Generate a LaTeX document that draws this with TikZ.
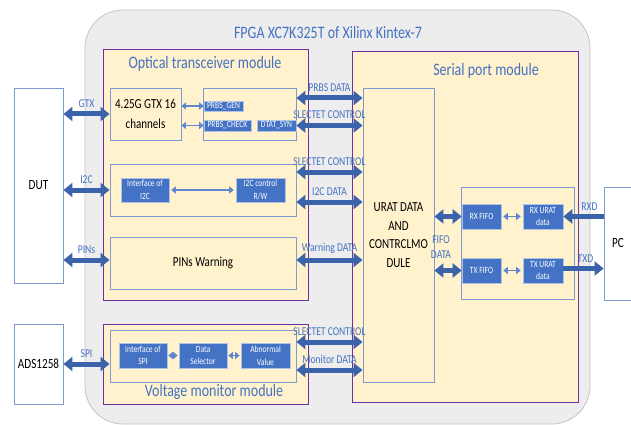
\documentclass[tikz,border=0pt]{standalone}
\usepackage{fontspec}
\setmainfont[FakeStretch=0.8]{Carlito}
\usetikzlibrary{arrows.meta}
\definecolor{tblue}{HTML}{4472C4}
\definecolor{abl}{HTML}{3A63AB}
\definecolor{cbord}{HTML}{7B9BD2}
\definecolor{mfill}{HTML}{FFF2CC}
\definecolor{mbord}{HTML}{7030A0}
\definecolor{fgray}{HTML}{EDEDED}
\definecolor{gbord}{HTML}{C4C4C4}
\begin{document}
\begin{tikzpicture}[x=1pt,y=-1pt,
  fpga/.style={draw=gbord, fill=fgray, rounded corners=38pt, line width=0.8pt, inner sep=0pt},
  module/.style={draw=mbord, fill=mfill, line width=0.7pt, inner sep=0pt},
  cont/.style={draw=cbord, fill=mfill, line width=0.9pt, inner sep=0pt, align=center, font=\fontsize{13.8}{20}\selectfont},
  ext/.style={draw=cbord, fill=white, line width=0.9pt, inner sep=0pt, font=\fontsize{14}{16}\selectfont},
  bbox/.style={fill=tblue, draw=cbord!60, line width=0.6pt, text=white, font=\fontsize{9.5}{12.5}\selectfont, align=center, inner sep=0pt},
  big/.style={draw=abl, line width=5pt, {Triangle[length=9pt,width=14pt]}-{Triangle[length=9pt,width=14pt]}},
  bigone/.style={draw=abl, line width=5pt, -{Triangle[length=9pt,width=14pt]}},
  sm/.style={draw=tblue!85, line width=1.3pt, {Triangle[length=4.5pt,width=7pt]}-{Triangle[length=4.5pt,width=7pt]}},
  lab/.style={text=tblue, font=\fontsize{12}{12}\selectfont, inner sep=1pt},
  ttl/.style={text=tblue, font=\fontsize{17.5}{18}\selectfont, inner sep=0pt}
]
\useasboundingbox (0,0) rectangle (631,425);
\fill[white] (0,0) rectangle (631,425);

% FPGA
\node[fpga, minimum width=505pt, minimum height=414pt] (fpga) at (337.5,217) {};
\node[ttl] (fpgat) at (328,32) {FPGA XC7K325T of Xilinx Kintex-7};

% Optical transceiver module
\node[module, minimum width=205pt, minimum height=251pt] (opt) at (205.5,174.5) {};
\node[ttl] (optt) at (205,64) {Optical transceiver module};
\node[cont, minimum width=71pt, minimum height=52pt] (gtx) at (145.5,114) {4.25G GTX 16\\channels};
\node[cont, minimum width=93pt, minimum height=52pt] (prbsbox) at (249.5,114) {};
\node[bbox, minimum width=39pt, minimum height=10pt] (prbsgen) at (223.5,106) {PRBS\_GEN};
\node[bbox, minimum width=47pt, minimum height=11pt] (prbschk) at (227.5,125.5) {PRBS\_CHECK};
\node[bbox, minimum width=39pt, minimum height=11pt] (dtat) at (276.5,125.5) {DTAT\_SYN};
\node[cont, minimum width=186pt, minimum height=52pt] (i2cbox) at (203,190) {};
\node[bbox, minimum width=48pt, minimum height=24pt] (ifi2c) at (145,190) {Interface of\\I2C};
\node[bbox, minimum width=49pt, minimum height=24pt] (i2cctl) at (260.5,190) {I2C control\\R/W};
\node[cont, minimum width=186pt, minimum height=52pt] (pins) at (203,263) {PINs Warning};

% Voltage monitor module
\node[module, minimum width=205pt, minimum height=80pt] (volt) at (205.5,364) {};
\node[cont, minimum width=186pt, minimum height=52pt] (voltbox) at (203,356) {};
\node[bbox, minimum width=48pt, minimum height=25pt] (ifspi) at (143,355.5) {Interface of\\SPI};
\node[bbox, minimum width=48pt, minimum height=25pt] (dsel) at (203,355.5) {Data\\Selector};
\node[bbox, minimum width=49pt, minimum height=25pt] (abn) at (265.5,355.5) {Abnormal\\Value};
\node[ttl] (voltt) at (214,392) {Voltage monitor module};

% Serial port module
\node[module, minimum width=226pt, minimum height=351pt] (serial) at (465,226.5) {};
\node[ttl] (serialt) at (486,71) {Serial port module};
\node[cont, minimum width=71pt, minimum height=294pt, font=\fontsize{13.8}{18.7}\selectfont] (urat) at (398.5,235) {URAT DATA\\AND\\CONTRCLMO\\DULE};
\node[cont, minimum width=113pt, minimum height=112pt] (fifobox) at (517.5,243) {};
\node[bbox, minimum width=39pt, minimum height=25pt] (rxfifo) at (481.5,216.5) {RX FIFO};
\node[bbox, minimum width=40pt, minimum height=25pt] (rxurat) at (543,216.5) {RX URAT\\data};
\node[bbox, minimum width=39pt, minimum height=25pt] (txfifo) at (481.5,270.5) {TX FIFO};
\node[bbox, minimum width=40pt, minimum height=25pt] (txurat) at (543,270.5) {TX URAT\\data};
\node[lab, align=center, font=\fontsize{12}{15}\selectfont] (fifodata) at (441,247) {FIFO\\DATA};

% External devices
\node[ext, minimum width=49pt, minimum height=195pt] (dut) at (38.5,185.5) {DUT};
\node[ext, minimum width=49pt, minimum height=80pt] (ads) at (38.5,364) {ADS1258};
\node[ext, minimum width=28pt, minimum height=113pt] (pc) at (618,243.5) {PC};

% Small internal arrows
\draw[sm] (prbsgen.west -| gtx.east) -- (prbsgen.west);
\draw[sm] (prbschk.west -| gtx.east) -- (prbschk.west);
\draw[sm, shorten <=2pt, shorten >=2pt] (ifi2c.east) -- (i2cctl.west);
\draw[sm, shorten <=1pt, shorten >=1pt] (ifspi.east) -- (dsel.west);
\draw[sm, shorten <=1pt, shorten >=1pt] (dsel.east) -- (abn.west);
\draw[sm, shorten <=2pt, shorten >=2pt] (rxfifo.east) -- (rxurat.west);
\draw[sm, shorten <=2pt, shorten >=2pt] (txfifo.east) -- (txurat.west);

% Big arrows left
\draw[big] (gtx.west -| dut.east) -- (gtx.west) node[lab, midway, above=3pt] {GTX};
\draw[big] (i2cbox.west -| dut.east) -- (i2cbox.west) node[lab, midway, above=3pt] {I2C};
\draw[big] ([yshift=3pt]pins.west -| dut.east) -- ([yshift=3pt]pins.west) node[lab, midway, above=3pt] {PINs};
\draw[big] ([yshift=-8pt]voltbox.west -| ads.east) -- ([yshift=-8pt]voltbox.west) node[lab, midway, above=3pt] {SPI};

% Big arrows middle
\draw[big] ([yshift=16pt]prbsbox.east) -- ([yshift=16pt]prbsbox.east -| urat.west) node[lab, midway, above=3pt] {PRBS DATA};
\draw[big] (dtat.east) -- (dtat.east -| urat.west) node[lab, midway, above=3pt] {SLECTET CONTROL};
\draw[big] ([yshift=18pt]i2cbox.east) -- ([yshift=18pt]i2cbox.east -| urat.west) node[lab, midway, above=3pt] {SLECTET CONTROL};
\draw[big] ([yshift=-12pt]i2cbox.east) -- ([yshift=-12pt]i2cbox.east -| urat.west) node[lab, midway, above=3pt] {I2C DATA};
\draw[big] ([yshift=3pt]pins.east) -- ([yshift=3pt]pins.east -| urat.west) node[lab, midway, above=3pt] {Warning DATA};
\draw[big] ([yshift=14pt]voltbox.east) -- ([yshift=14pt]voltbox.east -| urat.west) node[lab, midway, above=3pt] {SLECTET CONTROL};
\draw[big] ([yshift=-14pt]voltbox.east) -- ([yshift=-14pt]voltbox.east -| urat.west) node[lab, midway, above=3pt] {Monitor DATA};

% Big arrows right
\draw[big] (rxfifo.west -| urat.east) -- (rxfifo.west);
\draw[big] (txfifo.west -| urat.east) -- (txfifo.west);
\draw[bigone] (rxurat.east -| pc.west) -- (rxurat.east) node[lab, pos=0.35, above=3pt] {RXD};
\draw[bigone] ([yshift=2pt]txurat.east) -- ([yshift=2pt]txurat.east -| pc.west) node[lab, pos=0.55, above=3pt] {TXD};
\end{tikzpicture}
\end{document}
